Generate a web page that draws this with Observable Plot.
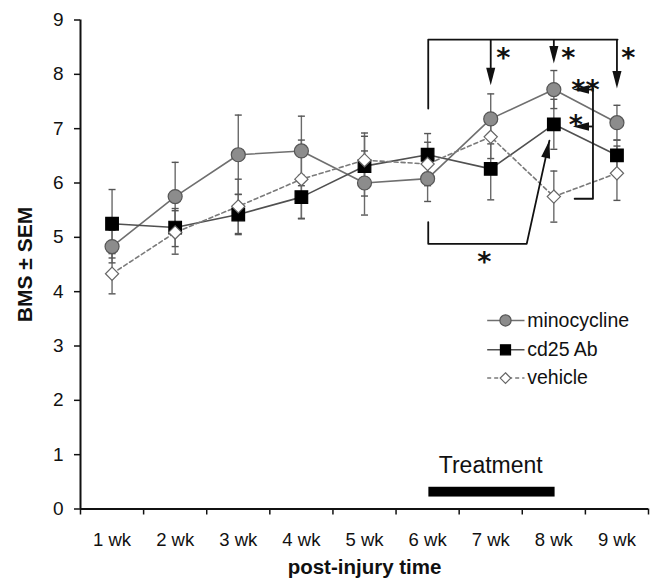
<!DOCTYPE html>
<html>
<head>
<meta charset="utf-8">
<script src="https://cdn.jsdelivr.net/npm/d3@7"></script>
<script src="https://cdn.jsdelivr.net/npm/@observablehq/plot@0.6"></script>
<style>
  body { margin: 0; background: #fff; }
  #chart svg { display: block; }
</style>
</head>
<body>
<div id="chart"></div>
<script>
// ---- data ----
const weeks = [1, 2, 3, 4, 5, 6, 7, 8, 9];
const weekLabels = ["1 wk", "2 wk", "3 wk", "4 wk", "5 wk", "6 wk", "7 wk", "8 wk", "9 wk"];
const yTicks = [0, 1, 2, 3, 4, 5, 6, 7, 8, 9];
const seriesNames = ["minocycline", "cd25 Ab", "vehicle"];

const minocycline    = [4.83, 5.75, 6.52, 6.59, 6.00, 6.08, 7.18, 7.72, 7.11];
const minocyclineSem = [0.30, 0.63, 0.73, 0.64, 0.59, 0.42, 0.46, 0.35, 0.32];
const cd25Ab         = [5.25, 5.18, 5.42, 5.74, 6.31, 6.52, 6.26, 7.08, 6.51];
const cd25AbSem      = [0.63, 0.35, 0.37, 0.40, 0.55, 0.39, 0.57, 0.46, 0.28];
const vehicle        = [4.33, 5.09, 5.57, 6.07, 6.42, 6.35, 6.85, 5.75, 6.18];
const vehicleSem     = [0.37, 0.40, 0.50, 0.72, 0.50, 0.40, 0.40, 0.47, 0.50];

// annotations (data coordinates: week, BMS)
const topBracket = [[6.01, 7.37], [6.01, 8.64], [9.01, 8.64]];
const downArrows = [[7, 8.64, 7.80], [8, 8.64, 8.20], [9, 8.64, 7.74]];
const sideBracket = [[8.33, 5.71], [8.62, 5.71], [8.62, 7.74]];
const leftArrows = [[8.62, 8.30, 7.72], [8.62, 8.30, 7.04]];
const bottomBracket = [[6.01, 5.28], [6.01, 4.88], [7.57, 4.88], [7.93, 6.78]];
const starLabels = [["*", 7.2, 8.43], ["*", 8.23, 8.43], ["*", 9.18, 8.43], ["**", 8.5, 7.84], ["*", 8.35, 7.19], ["*", 6.9, 4.66]];
const treatmentSpan = [6.02, 8.02];
const treatmentBand = [0.22, 0.40];
const treatmentLabel = ["Treatment", 7.0, 0.8];
const legendX = [6.944, 7.535, 7.234, 7.578];
const legendY = [3.47, 2.93, 2.41];

// ---- build table ----
const values = [minocycline, cd25Ab, vehicle];
const sems = [minocyclineSem, cd25AbSem, vehicleSem];
const rows = seriesNames.flatMap((s, i) =>
  weeks.map((w, j) => ({series: s, week: w, value: values[i][j], sem: sems[i][j]})));
const caps = rows.flatMap(d => [
  {week: d.week, y: d.value + d.sem}, {week: d.week, y: d.value - d.sem}]);

// ---- symbols ----
const rad = size => Math.sqrt(size / Math.PI);
const symCircle = {draw(c, size) { const r = rad(size); c.moveTo(r, 0); c.arc(0, 0, r, 0, 2 * Math.PI); }};
const symSquare = {draw(c, size) { const r = rad(size); c.moveTo(-r, -r); c.lineTo(r, -r); c.lineTo(r, r); c.lineTo(-r, r); c.closePath(); }};
const symDiamond = {draw(c, size) { const r = rad(size); c.moveTo(0, -r); c.lineTo(r, 0); c.lineTo(0, r); c.lineTo(-r, 0); c.closePath(); }};
const symCap = {draw(c, size) { const r = rad(size); c.moveTo(-r, 0); c.lineTo(r, 0); }};
function arrowHead(angleDeg) {
  const a = angleDeg * Math.PI / 180;
  return {draw(c, size) {
    const s = rad(size), L = s * 2.5, W = s * 0.65;
    const ux = Math.cos(a), uy = Math.sin(a);
    const bx = -L * ux, by = -L * uy;
    c.moveTo(0, 0);
    c.lineTo(bx - W * uy, by + W * ux);
    c.lineTo(bx + W * uy, by - W * ux);
    c.closePath();
  }};
}

const styleOf = {
  "minocycline": {line: "#6f6f6f", dash: null, sym: symCircle, fill: "#8c8c8c", stroke: "#555", r: 7},
  "cd25 Ab": {line: "#505050", dash: null, sym: symSquare, fill: "#000", stroke: "#000", r: 6.3},
  "vehicle": {line: "#7a7a7a", dash: "4,3", sym: symDiamond, fill: "#fff", stroke: "#666", r: 6.6}
};

const marks = [];
// axes
marks.push(Plot.axisY({ticks: yTicks, tickSize: 6, tickPadding: 11, strokeWidth: 1.5, fontSize: 19, label: null}));
marks.push(Plot.axisX({ticks: weeks.map(w => w - 0.5).concat([weeks[weeks.length - 1] + 0.5]), tickSize: 6, tickFormat: () => "", strokeWidth: 1.5, label: null}));
marks.push(Plot.axisX({ticks: weeks, tickSize: 0, tickPadding: 24, fontSize: 18.5, tickFormat: d => weekLabels[weeks.indexOf(d)], label: null}));
marks.push(Plot.ruleX([0.5], {stroke: "#111", strokeWidth: 2}));
marks.push(Plot.ruleY([0], {stroke: "#111", strokeWidth: 2}));

// error bars
marks.push(Plot.ruleX(rows, {x: "week", y1: d => d.value - d.sem, y2: d => d.value + d.sem, stroke: "#6a6a6a", strokeWidth: 1.4}));
marks.push(Plot.dot(caps, {x: "week", y: "y", symbol: symCap, r: 3.5, stroke: "#555", fill: "none", strokeWidth: 1.4}));

// lines
for (const s of seriesNames) {
  const st = styleOf[s];
  marks.push(Plot.line(rows.filter(d => d.series === s), {x: "week", y: "value", stroke: st.line, strokeWidth: 1.6, strokeDasharray: st.dash}));
}
// markers
for (const s of seriesNames) {
  const st = styleOf[s];
  marks.push(Plot.dot(rows.filter(d => d.series === s), {x: "week", y: "value", symbol: st.sym, r: st.r, fill: st.fill, stroke: st.stroke, strokeWidth: 1.2}));
}

// annotations
const ann = {stroke: "#111", strokeWidth: 1.8};
marks.push(Plot.line(topBracket, {x: d => d[0], y: d => d[1], ...ann}));
marks.push(Plot.link(downArrows, {x1: d => d[0], x2: d => d[0], y1: d => d[1], y2: d => d[2] + 0.1, ...ann}));
marks.push(Plot.dot(downArrows, {x: d => d[0], y: d => d[2], symbol: arrowHead(90), r: 7, fill: "#111", stroke: "none"}));
marks.push(Plot.line(sideBracket, {x: d => d[0], y: d => d[1], ...ann}));
marks.push(Plot.link(leftArrows, {x1: d => d[0], x2: d => d[1] + 0.1, y1: d => d[2], y2: d => d[2], ...ann}));
marks.push(Plot.dot(leftArrows, {x: d => d[1], y: d => d[2], symbol: arrowHead(180), r: 6.5, fill: "#111", stroke: "none"}));
marks.push(Plot.line(bottomBracket, {x: d => d[0], y: d => d[1], ...ann}));
marks.push(Plot.dot([bottomBracket[bottomBracket.length - 1]], {x: d => d[0], y: d => d[1], symbol: arrowHead(-77.6), r: 7, fill: "#111", stroke: "none"}));
marks.push(Plot.text(starLabels, {x: d => d[1], y: d => d[2], text: d => d[0], fontFamily: "'DejaVu Sans', sans-serif", fontWeight: "bold", fontSize: 27, dy: 7, fill: "#111"}));

// treatment bar
marks.push(Plot.rect([treatmentSpan], {x1: d => d[0], x2: d => d[1], y1: treatmentBand[0], y2: treatmentBand[1], fill: "#000"}));
marks.push(Plot.text([treatmentLabel], {x: d => d[1], y: d => d[2], text: d => d[0], fontSize: 23, fill: "#111"}));

// legend
seriesNames.forEach((s, i) => {
  const st = styleOf[s];
  marks.push(Plot.link([legendY[i]], {x1: legendX[0], x2: legendX[1], y1: d => d, y2: d => d, stroke: st.line, strokeWidth: 1.6, strokeDasharray: st.dash}));
  marks.push(Plot.dot([legendY[i]], {x: legendX[2], y: d => d, symbol: st.sym, r: st.r * 0.8, fill: st.fill, stroke: st.stroke, strokeWidth: 1.2}));
  marks.push(Plot.text([s], {x: legendX[3], y: legendY[i], text: d => d, textAnchor: "start", fontSize: 19.5, fill: "#111"}));
});

// axis titles
marks.push(Plot.text(["BMS ± SEM"], {frameAnchor: "left", text: d => d, rotate: -90, dx: -55, textAnchor: "middle", lineAnchor: "middle", fontWeight: "bold", fontSize: 21, fill: "#111"}));
marks.push(Plot.text(["post-injury time"], {frameAnchor: "bottom", text: d => d, dy: 65, fontWeight: "bold", fontSize: 20.5, fill: "#111"}));

const chart = Plot.plot({
  width: 650,
  height: 582,
  marginLeft: 80,
  marginRight: 2,
  marginTop: 19.5,
  marginBottom: 73.5,
  x: {domain: [0.5, 9.5]},
  y: {domain: [0, 9]},
  style: {fontFamily: "'Liberation Sans', Arial, sans-serif", fontSize: "18.5px", color: "#111", background: "#fff", overflow: "visible"},
  marks
});
document.getElementById("chart").appendChild(chart);
</script>
</body>
</html>
